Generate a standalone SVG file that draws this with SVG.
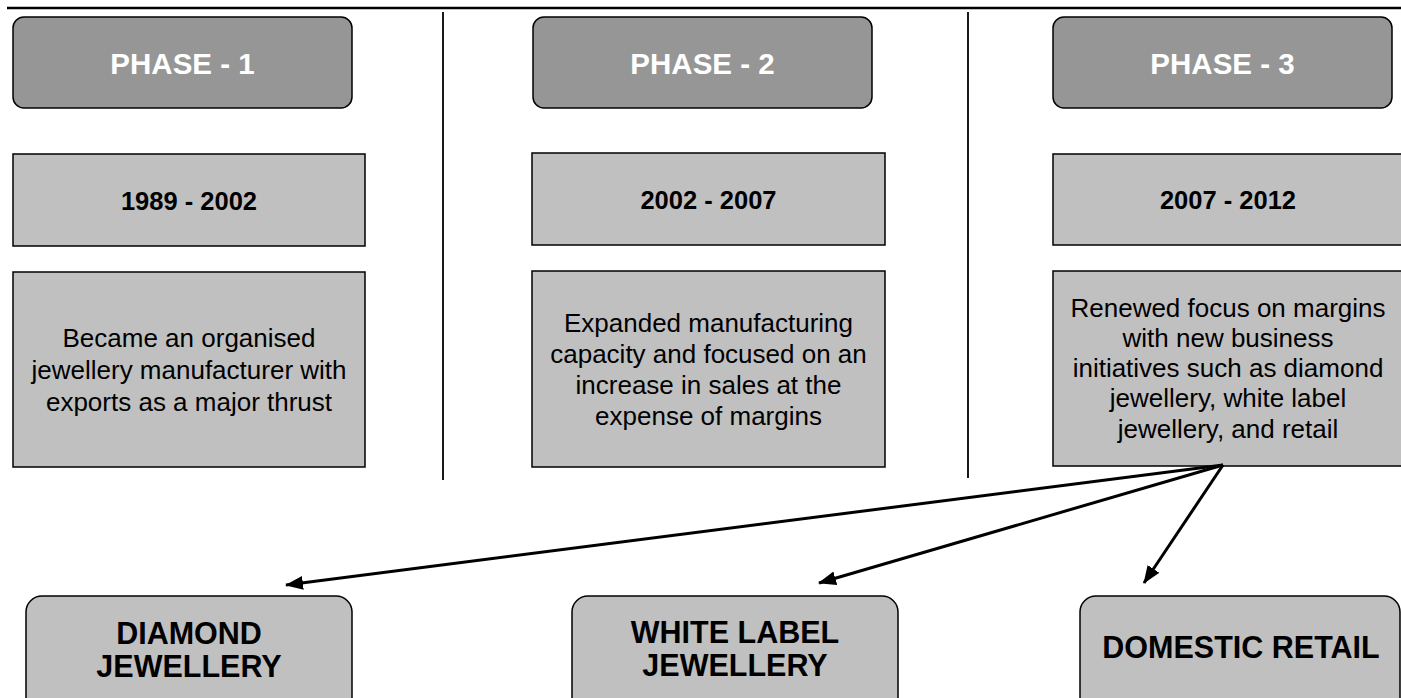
<svg xmlns="http://www.w3.org/2000/svg" width="1401" height="698" viewBox="0 0 1401 698">
<defs>
<marker id="arrow" markerUnits="userSpaceOnUse" markerWidth="18" markerHeight="15" refX="17" refY="7" orient="auto">
<path d="M0,0 L18,7 L0,14 Z" fill="#000"/>
</marker>
<style>
.phase{fill:#969696;stroke:#000;stroke-width:1.5}
.box{fill:#c0c0c0;stroke:#000;stroke-width:1.5}
.pt{font-family:"Liberation Sans",Arial,sans-serif;font-weight:bold;font-size:29.5px;fill:#fff;text-anchor:middle}
.yt{font-family:"Liberation Sans",Arial,sans-serif;font-weight:bold;font-size:25.5px;fill:#000;text-anchor:middle}
.dt{font-family:"Liberation Sans",Arial,sans-serif;font-size:26px;fill:#000;text-anchor:middle}
.bt{font-family:"Liberation Sans",Arial,sans-serif;font-weight:bold;font-size:30.5px;fill:#000;text-anchor:middle}
.rule{stroke:#000;stroke-width:2.5}
.div{stroke:#000;stroke-width:1.8}
.conn{stroke:#000;stroke-width:3;fill:none;marker-end:url(#arrow)}
</style>
</defs>
<rect width="1401" height="698" fill="#fff"/>
<line class="rule" x1="7" y1="8" x2="1401" y2="8"/>
<line class="div" x1="443" y1="12" x2="443" y2="480"/>
<line class="div" x1="968" y1="12" x2="968" y2="478"/>

<g id="phase1">
<rect class="phase" x="13" y="17" width="339" height="91" rx="11"/>
<text class="pt" x="182.5" y="74">PHASE - 1</text>
</g>
<g id="phase2">
<rect class="phase" x="533" y="17" width="339" height="91" rx="11"/>
<text class="pt" x="702.5" y="74">PHASE - 2</text>
</g>
<g id="phase3">
<rect class="phase" x="1053" y="17" width="339" height="91" rx="11"/>
<text class="pt" x="1222.5" y="74">PHASE - 3</text>
</g>

<g id="year1">
<rect class="box" x="13" y="154" width="352" height="92"/>
<text class="yt" x="189" y="210">1989 - 2002</text>
</g>
<g id="year2">
<rect class="box" x="532" y="153" width="353" height="92"/>
<text class="yt" x="708.5" y="209">2002 - 2007</text>
</g>
<g id="year3">
<rect class="box" x="1053" y="154" width="352" height="91"/>
<text class="yt" x="1228" y="209">2007 - 2012</text>
</g>

<g id="desc1">
<rect class="box" x="13" y="272" width="352" height="195"/>
<text class="dt" x="189" y="347">Became an organised</text>
<text class="dt" x="189" y="379">jewellery manufacturer with</text>
<text class="dt" x="189" y="411">exports as a major thrust</text>
</g>
<g id="desc2">
<rect class="box" x="532" y="271" width="353" height="196"/>
<text class="dt" x="708.5" y="332">Expanded manufacturing</text>
<text class="dt" x="708.5" y="363">capacity and focused on an</text>
<text class="dt" x="708.5" y="394">increase in sales at the</text>
<text class="dt" x="708.5" y="425">expense of margins</text>
</g>
<g id="desc3">
<rect class="box" x="1053" y="271" width="352" height="195"/>
<text class="dt" x="1228" y="317">Renewed focus on margins</text>
<text class="dt" x="1228" y="347">with new business</text>
<text class="dt" x="1228" y="377">initiatives such as diamond</text>
<text class="dt" x="1228" y="407">jewellery, white label</text>
<text class="dt" x="1228" y="438">jewellery, and retail</text>
</g>

<g id="connectors">
<line class="conn" x1="1223" y1="465" x2="286" y2="585"/>
<line class="conn" x1="1223" y1="465" x2="819" y2="583"/>
<line class="conn" x1="1223" y1="465" x2="1144" y2="583"/>
</g>

<g id="diamond">
<rect class="box" x="26" y="596" width="326" height="130" rx="16"/>
<text class="bt" x="189" y="644">DIAMOND</text>
<text class="bt" x="189" y="677">JEWELLERY</text>
</g>
<g id="whitelabel">
<rect class="box" x="572" y="596" width="326" height="130" rx="16"/>
<text class="bt" x="735" y="643">WHITE LABEL</text>
<text class="bt" x="735" y="676">JEWELLERY</text>
</g>
<g id="retail">
<rect class="box" x="1080" y="596" width="320" height="130" rx="16"/>
<text class="bt" x="1241" y="658">DOMESTIC RETAIL</text>
</g>
</svg>
